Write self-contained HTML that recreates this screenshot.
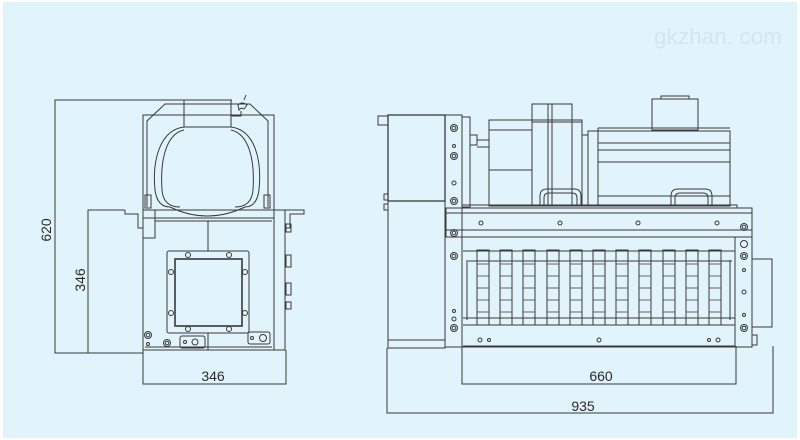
<!DOCTYPE html>
<html><head><meta charset="utf-8"><style>
html,body{margin:0;padding:0;background:#fff;}
svg{display:block;}
text{font-family:"Liberation Sans",sans-serif;}
</style></head><body>
<svg width="800" height="440" viewBox="0 0 800 440" xmlns="http://www.w3.org/2000/svg">
<rect x="3" y="2" width="794" height="436" fill="#e1f3fb"/>
<text x="782" y="44" font-size="22" fill="#d3e6ee" text-anchor="end" textLength="128" lengthAdjust="spacingAndGlyphs">gkzhan. com</text>
<g fill="none" stroke="#3a3a3a" stroke-width="1">
<polyline points="232,100 55,100 55,353 143,353"/>
<polyline points="125,210 88,210 88,353"/>
<polyline points="143,350 143,384 286,384 286,350"/>
<rect x="143" y="115" width="131" height="95"/>
<polyline points="147,207 147,121 165,104 250,104 268,121 268,207"/>
<rect x="184" y="100" width="47" height="27"/>
<path d="M231,116 h10 v-5 M238,105 q4,-4 9,0 l-3,4 q-3,-2 -5,1 z M244,100 l2,-5"/>
<path d="M184,127 C160,130 152,160 155,190 C157,205 165,207 170,207"/>
<path d="M231,127 C255,130 262,160 259,190 C257,205 250,207 245,207"/>
<path d="M184,130 C166,134 160,160 162,190 C163,203 171,207 180,207"/>
<path d="M231,130 C249,134 255,160 253,190 C252,203 244,207 235,207"/>
<path d="M170,207 Q207,225 245,207"/>
<rect x="145" y="195" width="6" height="13"/><rect x="264" y="195" width="6" height="13"/>
<polyline points="125,210 125,214 138,214 138,228 143,228"/>
<polyline points="285,210 304,210 304,214 290,214 290,228 285,228"/>
<line x1="143" y1="210" x2="285" y2="210"/>
<line x1="155" y1="221" x2="272" y2="221"/>
<line x1="143" y1="218" x2="274" y2="218"/>
<rect x="143" y="210" width="12" height="28"/>
<rect x="143" y="210" width="142" height="140"/>
<line x1="274" y1="210" x2="274" y2="350"/>
<line x1="208" y1="221" x2="208" y2="251"/>
<rect x="286" y="224" width="5" height="8"/><rect x="286" y="255" width="5" height="12"/><rect x="286" y="283" width="5" height="12"/><rect x="286" y="302" width="5" height="7"/>
<rect x="167" y="251" width="82" height="82" rx="2"/>
<rect x="175" y="259" width="67" height="67" stroke-width="1.6"/>
<circle cx="188" cy="255" r="2.5"/><circle cx="229" cy="255" r="2.5"/>
<circle cx="188" cy="329" r="2.5"/><circle cx="229" cy="329" r="2.5"/>
<circle cx="171" cy="272" r="2.5"/><circle cx="171" cy="313" r="2.5"/>
<circle cx="245" cy="272" r="2.5"/><circle cx="245" cy="313" r="2.5"/>
<circle cx="148" cy="335" r="3.5"/><circle cx="148" cy="335" r="1.8"/>
<circle cx="148" cy="344" r="1.5"/>
<circle cx="167" cy="343" r="3.5"/><circle cx="167" cy="343" r="1.8"/>
<rect x="180" y="336" width="25" height="12" rx="2"/><circle cx="185" cy="342" r="1.5"/><circle cx="195" cy="342" r="3"/>
<rect x="248" y="332" width="22" height="12" rx="2"/><circle cx="252" cy="338" r="1.5"/><circle cx="263" cy="338" r="3.5"/>
<line x1="208" y1="333" x2="208" y2="350"/>
<line x1="145" y1="347" x2="272" y2="347"/>

<polyline points="387,348 387,413 773,413 773,346"/>
<polyline points="462,346 462,384 736,384 736,346"/>
<rect x="378" y="116" width="10" height="9"/>
<rect x="388" y="115" width="57" height="86" stroke-width="1.3"/>
<rect x="388" y="201" width="57" height="147"/>
<line x1="388" y1="340" x2="445" y2="340"/>
<rect x="384" y="194" width="4" height="6"/><rect x="384" y="204" width="4" height="6"/>
<rect x="445" y="115" width="17" height="232"/>
<rect x="462" y="117" width="8" height="90"/>
<rect x="470" y="135" width="7" height="10"/><line x1="477" y1="140" x2="489" y2="140"/><line x1="477" y1="147" x2="489" y2="147"/>
<circle cx="454" cy="128" r="3.5"/><circle cx="454" cy="128" r="1.8"/>
<circle cx="454" cy="146" r="1.5"/>
<circle cx="454" cy="156" r="3.5"/><circle cx="454" cy="156" r="1.8"/>
<circle cx="454" cy="183" r="2"/>
<circle cx="454" cy="201" r="3.5"/><circle cx="454" cy="201" r="1.8"/>
<circle cx="454" cy="233" r="3.5"/><circle cx="454" cy="233" r="1.8"/>
<circle cx="454" cy="256" r="3.5"/><circle cx="454" cy="256" r="1.8"/>
<circle cx="454" cy="311" r="1.5"/><circle cx="454" cy="319" r="2"/>
<circle cx="454" cy="328" r="3.5"/><circle cx="454" cy="328" r="1.8"/>
<rect x="489" y="120" width="93" height="86"/>
<line x1="489" y1="130" x2="532" y2="130"/><line x1="489" y1="170" x2="532" y2="170"/>
<rect x="532" y="104" width="40" height="102"/>
<line x1="548" y1="104" x2="548" y2="206"/><line x1="552" y1="104" x2="552" y2="206"/>
<line x1="532" y1="122" x2="582" y2="122"/>
<line x1="572" y1="122" x2="572" y2="206"/>
<rect x="582" y="135" width="6" height="71"/>
<path d="M540,206 v-10 q0,-7 7,-7 h27 q7,0 7,7 v10 M544,206 v-8 q0,-5 5,-5 h23 q5,0 5,5 v8"/>
<rect x="588" y="131" width="142" height="75"/>
<line x1="598" y1="128" x2="598" y2="206"/>
<line x1="598" y1="128" x2="730" y2="128"/>
<line x1="598" y1="143" x2="730" y2="143"/><line x1="598" y1="150" x2="730" y2="150"/><line x1="598" y1="162" x2="730" y2="162"/>
<line x1="598" y1="196" x2="730" y2="196"/>
<rect x="652" y="99" width="46" height="31"/>
<rect x="661" y="96" width="28" height="3"/>
<path d="M671,206 v-10 q0,-7 7,-7 h27 q7,0 7,7 v10 M675,206 v-8 q0,-5 5,-5 h23 q5,0 5,5 v8"/>
<rect x="462" y="205" width="275" height="3"/>
<rect x="446" y="208" width="306" height="29"/>
<line x1="446" y1="213" x2="752" y2="213"/><line x1="446" y1="230" x2="752" y2="230"/>
<circle cx="481" cy="223" r="2"/><circle cx="560" cy="223" r="2"/><circle cx="638" cy="223" r="2"/><circle cx="717" cy="223" r="2"/>
<circle cx="744" cy="227" r="3.5"/><circle cx="744" cy="227" r="1.8"/>
<rect x="462" y="237" width="273" height="110"/>
<line x1="463" y1="251" x2="735" y2="251"/>
<line x1="468" y1="261" x2="732" y2="261"/>
<line x1="467" y1="260" x2="467" y2="320"/><line x1="730" y1="260" x2="730" y2="320"/>
<line x1="463" y1="318" x2="735" y2="318"/><line x1="463" y1="325" x2="735" y2="325"/>
<line x1="463" y1="346" x2="735" y2="346"/>
<circle cx="480" cy="340" r="2"/><circle cx="489" cy="340" r="1.5"/><circle cx="599" cy="340" r="2"/><circle cx="709" cy="340" r="1.5"/><circle cx="718" cy="340" r="2"/>
<rect x="477" y="250" width="12" height="75"/>
<rect x="500" y="250" width="12" height="75"/>
<rect x="523" y="250" width="12" height="75"/>
<rect x="547" y="250" width="12" height="75"/>
<rect x="570" y="250" width="12" height="75"/>
<rect x="593" y="250" width="12" height="75"/>
<rect x="616" y="250" width="12" height="75"/>
<rect x="639" y="250" width="12" height="75"/>
<rect x="663" y="250" width="12" height="75"/>
<rect x="686" y="250" width="12" height="75"/>
<rect x="709" y="250" width="12" height="75"/>
<g stroke-width="0.8">
<path d="M477,264h12M477,276h12M477,288h12M477,300h12M477,312h12"/>
<path d="M500,264h12M500,276h12M500,288h12M500,300h12M500,312h12"/>
<path d="M523,264h12M523,276h12M523,288h12M523,300h12M523,312h12"/>
<path d="M547,264h12M547,276h12M547,288h12M547,300h12M547,312h12"/>
<path d="M570,264h12M570,276h12M570,288h12M570,300h12M570,312h12"/>
<path d="M593,264h12M593,276h12M593,288h12M593,300h12M593,312h12"/>
<path d="M616,264h12M616,276h12M616,288h12M616,300h12M616,312h12"/>
<path d="M639,264h12M639,276h12M639,288h12M639,300h12M639,312h12"/>
<path d="M663,264h12M663,276h12M663,288h12M663,300h12M663,312h12"/>
<path d="M686,264h12M686,276h12M686,288h12M686,300h12M686,312h12"/>
<path d="M709,264h12M709,276h12M709,288h12M709,300h12M709,312h12"/>
</g>
<rect x="735" y="237" width="17" height="110"/>
<circle cx="744" cy="244" r="3.5"/><circle cx="744" cy="256" r="3.5"/><circle cx="744" cy="256" r="1.8"/>
<circle cx="744" cy="270" r="1.5"/><circle cx="744" cy="292" r="2"/><circle cx="744" cy="315" r="1.5"/>
<circle cx="744" cy="328" r="3.5"/><circle cx="744" cy="328" r="1.8"/>
<rect x="752" y="259" width="20" height="68"/>
<rect x="752" y="335" width="5" height="10"/>
</g>
<g fill="#2a2a2a" font-size="14">
<text x="213" y="381" text-anchor="middle">346</text>
<text x="601" y="381" text-anchor="middle">660</text>
<text x="583" y="411" text-anchor="middle">935</text>
<text transform="translate(51,230) rotate(-90)" text-anchor="middle">620</text>
<text transform="translate(85,280) rotate(-90)" text-anchor="middle">346</text>
</g>
</svg>
</body></html>
